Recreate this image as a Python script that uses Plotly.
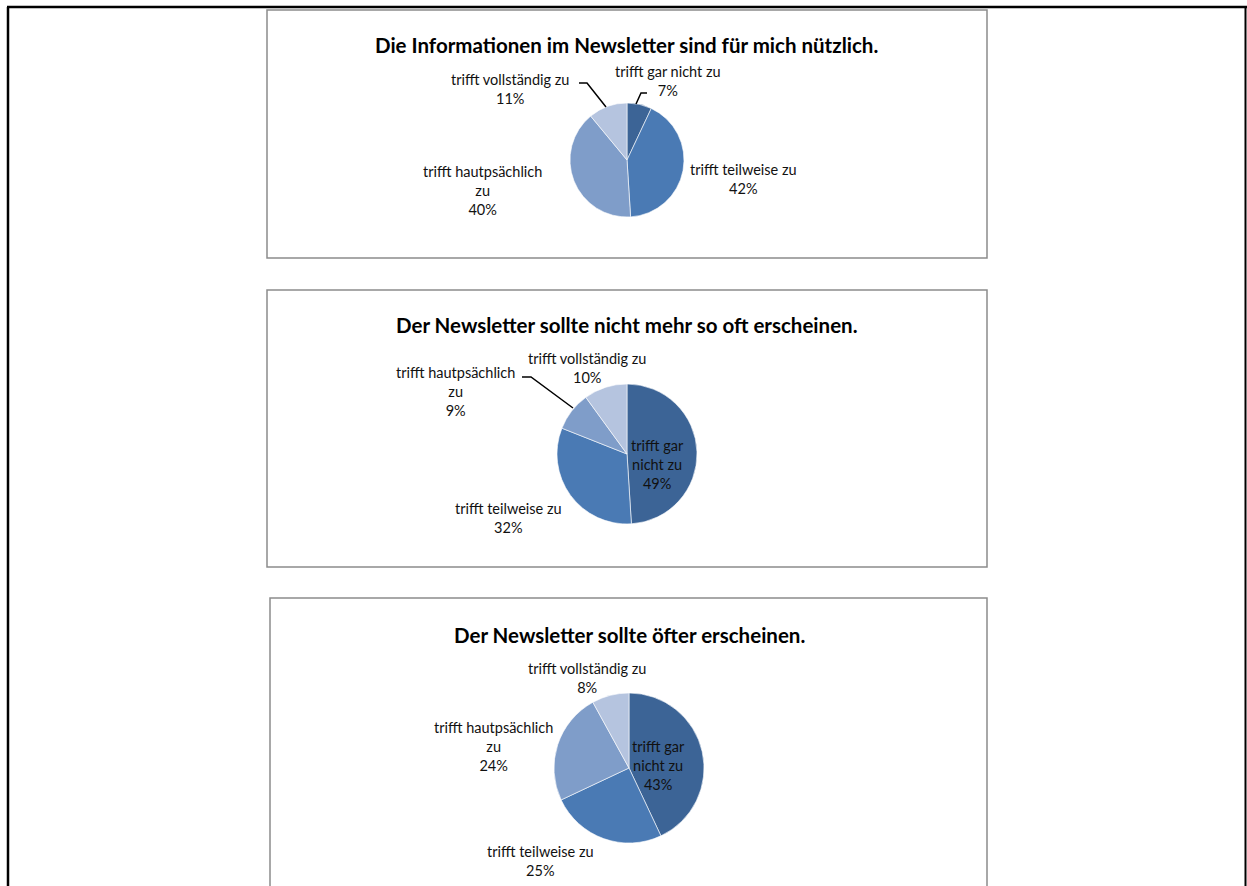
import plotly.graph_objects as go

W, H = 1247, 886

# ---------------- data ----------------
categories = ["trifft gar nicht zu", "trifft teilweise zu",
              "trifft hautpsächlich zu", "trifft vollständig zu"]
titles = ["Die Informationen im Newsletter sind für mich nützlich.",
          "Der Newsletter sollte nicht mehr so oft erscheinen.",
          "Der Newsletter sollte öfter erscheinen."]
values_1 = [7, 42, 40, 11]
values_2 = [49, 32, 9, 10]
values_3 = [43, 25, 24, 8]
# how each category label is wrapped in each chart
wrap_1 = ["trifft gar nicht zu", "trifft teilweise zu",
          "trifft hautpsächlich<br>zu", "trifft vollständig zu"]
wrap_2 = ["trifft gar<br>nicht zu", "trifft teilweise zu",
          "trifft hautpsächlich<br>zu", "trifft vollständig zu"]
wrap_3 = ["trifft gar<br>nicht zu", "trifft teilweise zu",
          "trifft hautpsächlich<br>zu", "trifft vollständig zu"]

colors = ["#3C6496", "#4A7AB4", "#7F9DC9", "#B5C4DF"]

# ---------------- layout helpers (pixel -> paper) ----------------
def px(x):
    return x / W

def py(y):
    return 1 - y / H

charts = [
    dict(values=values_1, wrap=wrap_1, title=titles[0],
         box=(267, 10, 987, 258), center=(627, 160), r=57, title_y=45,
         label_pos=[(668, 81), (743, 179), (482, 190), (510, 89)],
         leaders=[[(647, 93), (641, 93), (636, 104)],
                  [(579, 83), (587, 83), (606, 107)]]),
    dict(values=values_2, wrap=wrap_2, title=titles[1],
         box=(267, 290, 987, 567), center=(627, 454), r=70, title_y=325,
         label_pos=[(657, 464), (508, 518), (455, 391), (587, 368)],
         leaders=[[(522, 377), (531, 377), (573, 408)]]),
    dict(values=values_3, wrap=wrap_3, title=titles[2],
         box=(270, 598, 987, 900), center=(629, 768), r=75, title_y=635,
         label_pos=[(658, 765), (540, 861), (493, 746), (587, 678)],
         leaders=[]),
]

fig = go.Figure()
shapes = []
annotations = []

# page frame
shapes.append(dict(type="line", xref="paper", yref="paper",
                   x0=px(7), x1=px(1247), y0=py(7), y1=py(7),
                   line=dict(color="black", width=2.5)))
shapes.append(dict(type="line", xref="paper", yref="paper",
                   x0=px(8), x1=px(8), y0=py(7), y1=py(890),
                   line=dict(color="black", width=2.5)))
shapes.append(dict(type="line", xref="paper", yref="paper",
                   x0=px(1245.5), x1=px(1245.5), y0=py(7), y1=py(890),
                   line=dict(color="black", width=2)))

for c in charts:
    cx, cy = c["center"]
    r = c["r"]
    fig.add_trace(go.Pie(
        labels=categories, values=c["values"], sort=False,
        direction="clockwise", rotation=0,
        marker=dict(colors=colors, line=dict(color="white", width=0.6)),
        textinfo="none", hoverinfo="label+percent", showlegend=False,
        domain=dict(x=[px(cx - r), px(cx + r)], y=[py(cy + r), py(cy - r)]),
    ))
    x0, y0, x1, y1 = c["box"]
    shapes.append(dict(type="rect", xref="paper", yref="paper",
                       x0=px(x0), x1=px(x1), y0=py(y1), y1=py(y0),
                       line=dict(color="#8C8C8C", width=1.5),
                       fillcolor="rgba(0,0,0,0)", layer="below"))
    annotations.append(dict(text="<b>" + c["title"] + "</b>", x=px(cx),
                            y=py(c["title_y"]), xref="paper", yref="paper",
                            showarrow=False, xanchor="center", yanchor="middle",
                            font=dict(family="Lato", size=20.5, color="black")))
    for lbl, v, (lx, ly) in zip(c["wrap"], c["values"], c["label_pos"]):
        annotations.append(dict(text=f"{lbl}<br>{v}%", x=px(lx), y=py(ly),
                                xref="paper", yref="paper", showarrow=False,
                                xanchor="center", yanchor="middle", align="center",
                                font=dict(family="Lato", size=14.5, color="#111111")))
    for pts in c["leaders"]:
        path = "M " + " L ".join(f"{px(a)},{py(b)}" for a, b in pts)
        shapes.append(dict(type="path", xref="paper", yref="paper", path=path,
                           line=dict(color="black", width=1.5)))

fig.update_layout(width=W, height=H, margin=dict(l=0, r=0, t=0, b=0),
                  paper_bgcolor="white", plot_bgcolor="white",
                  shapes=shapes, annotations=annotations)

fig.write_html("out.html", config={"displayModeBar": False},
               post_script="document.body.style.margin='0';")
